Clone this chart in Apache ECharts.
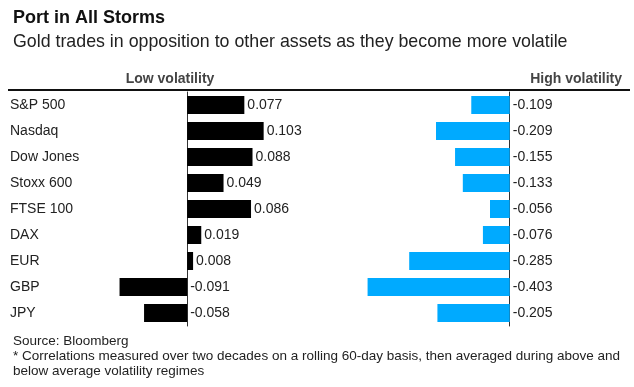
<!DOCTYPE html>
<html><head><meta charset="utf-8">
<script src="https://cdn.jsdelivr.net/npm/echarts@6/dist/echarts.min.js"></script>
<style>html,body{margin:0;padding:0;background:#fff}#c{width:634px;height:387px}</style>
</head><body><div id="c"></div>
<script>
var categories = ['S&P 500','Nasdaq','Dow Jones','Stoxx 600','FTSE 100','DAX','EUR','GBP','JPY'];
var lowVol = [0.077,0.103,0.088,0.049,0.086,0.019,0.008,-0.091,-0.058];
var highVol = [-0.109,-0.209,-0.155,-0.133,-0.056,-0.076,-0.285,-0.403,-0.205];
var F = 'Liberation Sans, Arial, sans-serif';
var chart = echarts.init(document.getElementById('c'));
var lbl = {show:true, position:'right', distance:3, color:'#222', fontSize:14, fontFamily:F,
  formatter:function(p){return p.value.toFixed(3);}};
chart.setOption({
  animation:false,
  title:[
    {text:'Port in All Storms', left:8, top:4, textStyle:{fontSize:18, fontWeight:'bold', color:'#111', fontFamily:F}},
    {text:'Gold trades in opposition to other assets as they become more volatile', left:8, top:28, textStyle:{fontSize:17.8, fontWeight:'normal', color:'#222', fontFamily:F}},
    {text:'Low volatility', left:165, textAlign:'center', top:67, textStyle:{fontSize:14, fontWeight:'bold', color:'#444', fontFamily:F}},
    {text:'High volatility', right:7, top:67, textStyle:{fontSize:14, fontWeight:'bold', color:'#444', fontFamily:F}},
    {text:'Source: Bloomberg\n* Correlations measured over two decades on a rolling 60-day basis, then averaged during above and\nbelow average volatility regimes', left:8, top:329, textStyle:{fontSize:13.5, fontWeight:'normal', color:'#222', lineHeight:15, fontFamily:F}}
  ],
  graphic:[{type:'rect', shape:{x:8, y:89, width:622, height:2}, style:{fill:'#111'}}],
  grid:[
    {left:98, width:208, top:92, height:234},
    {left:351, width:194, top:92, height:234}
  ],
  xAxis:[
    {gridIndex:0, type:'value', min:-0.12, max:0.16, show:false},
    {gridIndex:1, type:'value', min:-0.45, max:0.1, show:false}
  ],
  yAxis:[
    {gridIndex:0, type:'category', data:categories, inverse:true,
      axisLine:{show:true, onZero:true, lineStyle:{color:'#333', width:1}},
      axisTick:{show:false}, axisLabel:{show:false}, splitLine:{show:false}},
    {gridIndex:1, type:'category', data:categories, inverse:true,
      axisLine:{show:true, onZero:true, lineStyle:{color:'#333', width:1}},
      axisTick:{show:false}, axisLabel:{show:false}, splitLine:{show:false}},
    {gridIndex:0, type:'category', data:categories, inverse:true, position:'left', offset:88,
      axisLine:{show:false}, axisTick:{show:false},
      axisLabel:{show:true, align:'left', margin:0, color:'#222', fontSize:14, fontFamily:F, verticalAlign:'middle', padding:[0,0,4,0]}}
  ],
  series:[
    {type:'bar', xAxisIndex:0, yAxisIndex:0, data:lowVol, barWidth:18, itemStyle:{color:'#000'}, label:lbl},
    {type:'bar', xAxisIndex:1, yAxisIndex:1, data:highVol, barWidth:18, itemStyle:{color:'#00aaff'}, label:lbl}
  ]
});
</script></body></html>
